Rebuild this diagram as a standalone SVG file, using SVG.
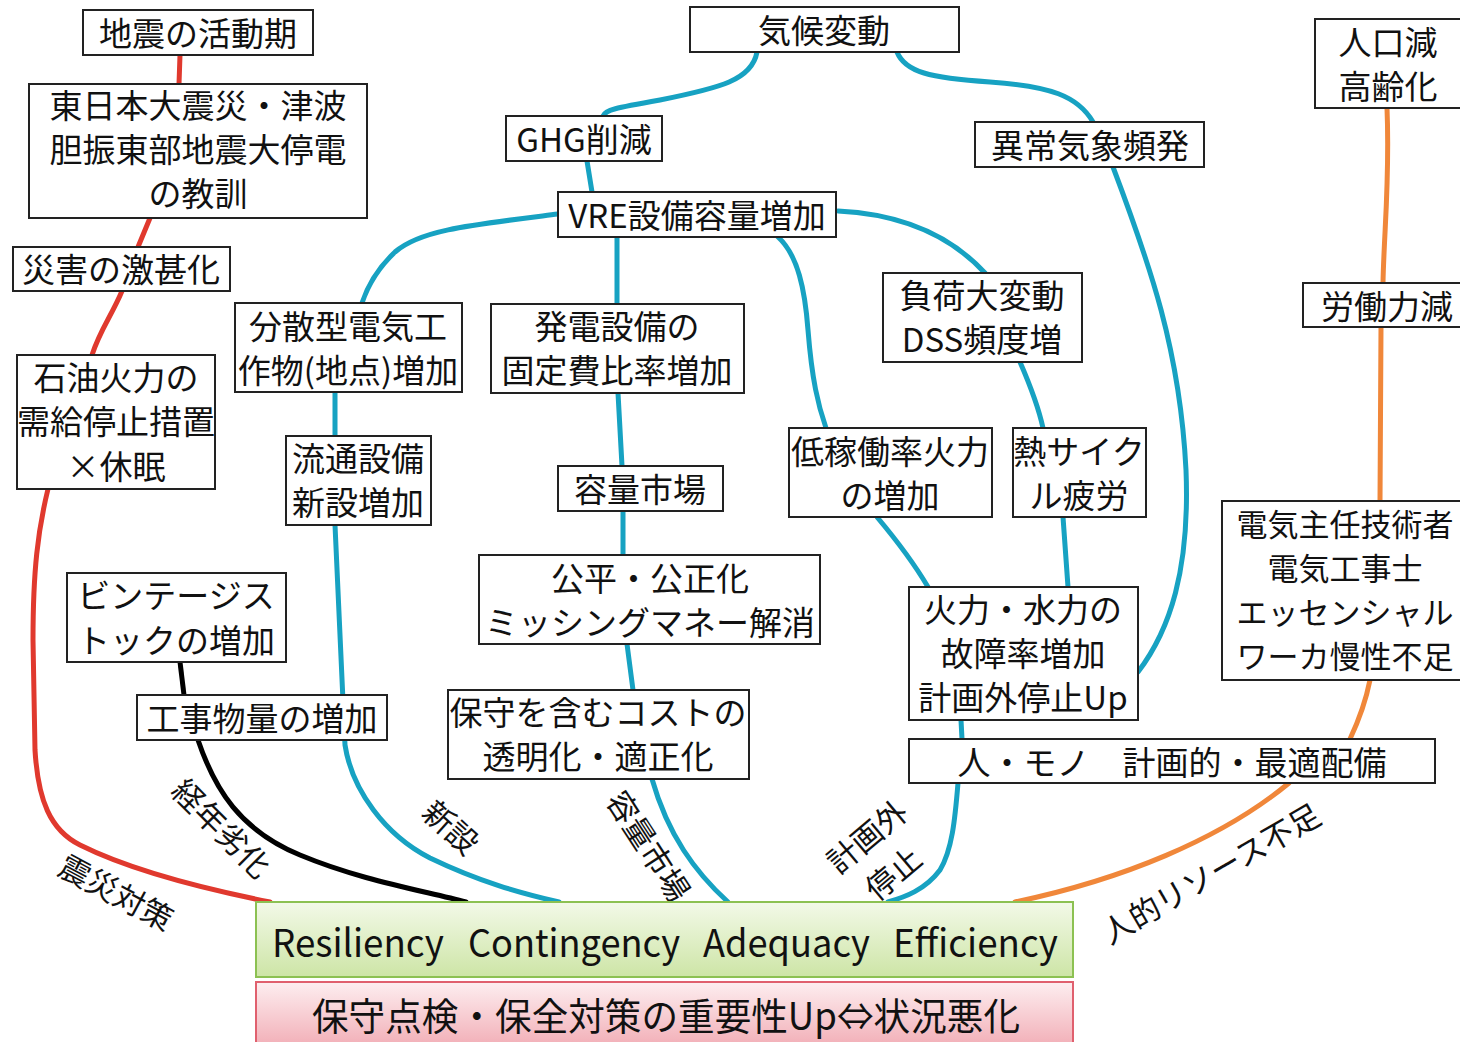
<svg xmlns="http://www.w3.org/2000/svg" width="1460" height="1042" viewBox="0 0 1460 1042">
<defs>
<style>
.box{fill:#fff;stroke:#222;stroke-width:2}
.t{font-family:"Noto Sans CJK JP","Noto Sans CJK SC",sans-serif;font-size:33px;fill:#111;text-anchor:middle;dominant-baseline:central}
.lb{font-family:"Noto Sans CJK JP","Noto Sans CJK SC",sans-serif;font-size:31px;fill:#111;text-anchor:middle;dominant-baseline:central}
.e{fill:none;stroke-width:5;stroke-linecap:round}
.b{stroke:#17a2c2}
.r{stroke:#e0392e}
.o{stroke:#f0873a}
.k{stroke:#000}
</style>
<linearGradient id="gg" x1="0" y1="0" x2="0" y2="1">
<stop offset="0" stop-color="#f3f9e8"/>
<stop offset="1" stop-color="#cde5a6"/>
</linearGradient>
<linearGradient id="pg" x1="0" y1="0" x2="0" y2="1">
<stop offset="0" stop-color="#fdeef0"/>
<stop offset="1" stop-color="#f1a9b2"/>
</linearGradient>
</defs>
<rect width="1460" height="1042" fill="#fff"/>
<g id="connectors">
<path class="e r" d="M180,55 L179,84"/>
<path class="e r" d="M150,218 L138,247"/>
<path class="e r" d="M122,291 C112,315 100,330 92,355"/>
<path class="e r" d="M48,489 C38,530 33,570 33,640 L35,750 C38,800 50,830 80,845 C130,870 200,888 270,902"/>
<path class="e k" d="M180,662 L184,695"/>
<path class="e k" d="M198,740 C215,790 240,830 300,855 C360,880 420,890 466,902"/>
<path class="e b" d="M335,392 L335,436"/>
<path class="e b" d="M335,525 L345,745 C352,790 385,835 430,858 C480,882 520,893 559,902"/>
<path class="e b" d="M558,214 C470,225 420,230 395,252 C378,268 368,285 362,303"/>
<path class="e b" d="M757,52 C752,80 720,88 660,100 C615,108 605,110 603,116"/>
<path class="e b" d="M587,161 L592,192"/>
<path class="e b" d="M617,237 L617,304"/>
<path class="e b" d="M778,237 C798,255 805,290 808,330 C812,380 818,405 826,428"/>
<path class="e b" d="M838,211 C900,214 950,235 985,273"/>
<path class="e b" d="M897,52 C905,72 930,78 990,82 C1050,86 1078,96 1093,122"/>
<path class="e b" d="M1113,167 C1150,265 1180,350 1186,470 C1190,570 1170,630 1138,672"/>
<path class="e b" d="M618,393 L622,466"/>
<path class="e b" d="M623,511 L623,555"/>
<path class="e b" d="M627,644 L633,690"/>
<path class="e b" d="M652,779 C668,835 695,872 728,902"/>
<path class="e b" d="M1020,362 C1030,385 1038,405 1043,428"/>
<path class="e b" d="M1063,517 L1068,587"/>
<path class="e b" d="M877,517 C898,542 915,565 928,587"/>
<path class="e b" d="M961,720 L962,739"/>
<path class="e b" d="M958,783 C955,820 952,850 940,870 C925,890 905,897 888,902"/>
<path class="e o" d="M1387,108 C1390,180 1384,230 1383,283"/>
<path class="e o" d="M1381,327 L1380,501"/>
<path class="e o" d="M1370,680 C1365,705 1358,722 1350,739"/>
<path class="e o" d="M1289,783 C1220,840 1120,880 1015,902"/>
<text class="lb" transform="translate(223,827) rotate(45)">経年劣化</text>
<text class="lb" transform="translate(117,891) rotate(28)">震災対策</text>
<text class="lb" transform="translate(452,826) rotate(42)">新設</text>
<text class="lb" transform="translate(650,845) rotate(57)">容量市場</text>
<text class="lb" transform="translate(866,835) rotate(-40)">計画外</text>
<text class="lb" transform="translate(892,872) rotate(-40)">停止</text>
<text class="lb" transform="translate(1210,872) rotate(-30)">人的リソース不足</text>
</g>
<g id="n_jishin"><rect class="box" x="83" y="10" width="230" height="45"/><text class="t" x="198" y="32">地震の活動期</text></g>
<g id="n_kyokun"><rect class="box" x="29" y="84" width="338" height="134"/><text class="t"><tspan x="198" y="104">東日本大震災・津波</tspan><tspan x="198" y="148">胆振東部地震大停電</tspan><tspan x="198" y="192">の教訓</tspan></text></g>
<g id="n_gekijin"><rect class="box" x="13" y="247" width="217" height="44"/><text class="t" x="121" y="268">災害の激甚化</text></g>
<g id="n_sekiyu"><rect class="box" x="17" y="355" width="198" height="134"/><text class="t"><tspan x="116" y="376">石油火力の</tspan><tspan x="116" y="420">需給停止措置</tspan><tspan x="116" y="465">×休眠</tspan></text></g>
<g id="n_bunsan"><rect class="box" x="235" y="303" width="227" height="89"/><text class="t"><tspan x="348" y="325">分散型電気工</tspan><tspan x="348" y="369">作物(地点)増加</tspan></text></g>
<g id="n_ryutsu"><rect class="box" x="286" y="436" width="145" height="89"/><text class="t"><tspan x="358" y="457">流通設備</tspan><tspan x="358" y="501">新設増加</tspan></text></g>
<g id="n_vintage"><rect class="box" x="67" y="573" width="219" height="89"/><text class="t"><tspan x="176" y="594">ビンテージス</tspan><tspan x="176" y="639">トックの増加</tspan></text></g>
<g id="n_koji"><rect class="box" x="137" y="695" width="250" height="45"/><text class="t" x="262" y="717">工事物量の増加</text></g>
<g id="n_kiko"><rect class="box" x="690" y="7" width="269" height="45"/><text class="t" x="824" y="29">気候変動</text></g>
<g id="n_ghg"><rect class="box" x="506" y="116" width="156" height="45"/><text class="t" x="584" y="138">GHG削減</text></g>
<g id="n_vre"><rect class="box" x="558" y="192" width="278" height="45"/><text class="t" x="697" y="214">VRE設備容量増加</text></g>
<g id="n_hatsuden"><rect class="box" x="491" y="304" width="253" height="89"/><text class="t"><tspan x="617" y="325">発電設備の</tspan><tspan x="617" y="369">固定費比率増加</tspan></text></g>
<g id="n_youryou"><rect class="box" x="558" y="466" width="165" height="45"/><text class="t" x="640" y="488">容量市場</text></g>
<g id="n_kohei"><rect class="box" x="479" y="555" width="341" height="89"/><text class="t"><tspan x="650" y="577">公平・公正化</tspan><tspan x="650" y="621">ミッシングマネー解消</tspan></text></g>
<g id="n_hoshu"><rect class="box" x="448" y="690" width="301" height="89"/><text class="t"><tspan x="598" y="711">保守を含むコストの</tspan><tspan x="598" y="755">透明化・適正化</tspan></text></g>
<g id="n_ijo"><rect class="box" x="975" y="122" width="229" height="45"/><text class="t" x="1090" y="144">異常気象頻発</text></g>
<g id="n_fuka"><rect class="box" x="883" y="273" width="199" height="89"/><text class="t"><tspan x="982" y="294">負荷大変動</tspan><tspan x="982" y="338">DSS頻度増</tspan></text></g>
<g id="n_teikado"><rect class="box" x="789" y="428" width="203" height="89"/><text class="t"><tspan x="890" y="450">低稼働率火力</tspan><tspan x="890" y="494">の増加</tspan></text></g>
<g id="n_netsu"><rect class="box" x="1013" y="428" width="133" height="89"/><text class="t"><tspan x="1079" y="450">熱サイク</tspan><tspan x="1079" y="494">ル疲労</tspan></text></g>
<g id="n_koshou"><rect class="box" x="909" y="587" width="229" height="133"/><text class="t"><tspan x="1023" y="608">火力・水力の</tspan><tspan x="1023" y="652">故障率増加</tspan><tspan x="1023" y="696">計画外停止Up</tspan></text></g>
<g id="n_haibi"><rect class="box" x="909" y="739" width="526" height="44"/><text class="t" x="1172" y="761">人・モノ　計画的・最適配備</text></g>
<g id="n_jinko"><rect class="box" x="1315" y="19" width="155" height="89"/><text class="t"><tspan x="1388" y="41">人口減</tspan><tspan x="1388" y="85">高齢化</tspan></text></g>
<g id="n_rodo"><rect class="box" x="1303" y="283" width="167" height="44"/><text class="t" x="1387" y="305">労働力減</text></g>
<g id="n_denki"><rect class="box" x="1222" y="501" width="260" height="179"/><text class="t" style="font-size:31px"><tspan x="1345" y="522">電気主任技術者</tspan><tspan x="1345" y="566">電気工事士</tspan><tspan x="1345" y="610">エッセンシャル</tspan><tspan x="1345" y="654">ワーカ慢性不足</tspan></text></g>
<g id="n_rcae"><rect x="256" y="902" width="817" height="75" fill="url(#gg)" stroke="#8cc152" stroke-width="2"/><text class="t" y="940" style="text-anchor:start;font-size:38px"><tspan x="272" textLength="172" lengthAdjust="spacingAndGlyphs">Resiliency</tspan><tspan x="468" textLength="212" lengthAdjust="spacingAndGlyphs">Contingency</tspan><tspan x="703" textLength="167" lengthAdjust="spacingAndGlyphs">Adequacy</tspan><tspan x="893" textLength="165" lengthAdjust="spacingAndGlyphs">Efficiency</tspan></text></g>
<g id="n_hozen"><rect x="256" y="982" width="817" height="70" fill="url(#pg)" stroke="#e0606e" stroke-width="2"/><text class="t" x="312" y="1013" style="text-anchor:start;font-size:38px" textLength="708" lengthAdjust="spacingAndGlyphs">保守点検・保全対策の重要性Up⇔状況悪化</text></g>
</svg>
